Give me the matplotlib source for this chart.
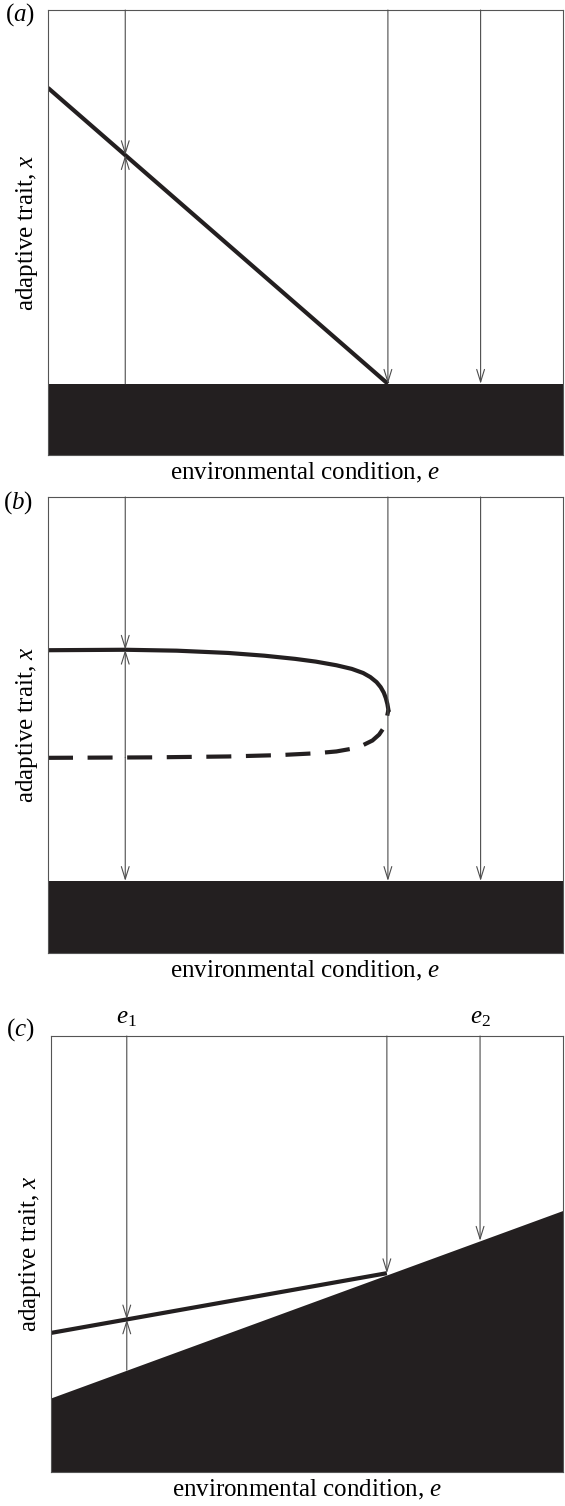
import numpy as np
import matplotlib
matplotlib.use("Agg")
import matplotlib.pyplot as plt

plt.rcParams['font.family'] = ['Liberation Serif', 'DejaVu Serif']
plt.rcParams['mathtext.fontset'] = 'custom'
plt.rcParams['mathtext.rm'] = 'Liberation Serif'
plt.rcParams['mathtext.it'] = 'Liberation Serif:italic'

# environmental conditions where the arrows are drawn (axis units 0..1)
e_arrows = [0.15, 0.66, 0.84]

# panel (a): straight equilibrium line, flat extinction floor
a_floor = 0.16
a_line_e = [0.0, 0.66]
a_line_x = [0.825, 0.16]

# panel (b): fold, stable (solid) and unstable (dashed) branch
b_floor = 0.158
b_stable_e = [0.0, 0.15, 0.25, 0.35, 0.42, 0.48, 0.52, 0.56, 0.59, 0.612, 0.626,
              0.638, 0.646, 0.652, 0.656, 0.659, 0.661]
b_stable_x = [0.664, 0.665, 0.663, 0.658, 0.652, 0.645, 0.639, 0.631, 0.623, 0.614, 0.605,
              0.594, 0.583, 0.571, 0.559, 0.546, 0.533]
b_unstable_e = [0.0, 0.20, 0.35, 0.45, 0.52, 0.56, 0.59, 0.612, 0.630, 0.643, 0.652,
                0.657, 0.661]
b_unstable_x = [0.428, 0.429, 0.431, 0.434, 0.438, 0.442, 0.448, 0.456, 0.466, 0.479, 0.494,
                0.512, 0.533]

# panel (c): rising floor, equilibrium line ending on it
c_floor_e = [0.0, 1.0]
c_floor_x = [0.17, 0.60]
c_line_e = [0.0, 0.656]
c_line_x = [0.319, 0.456]
c_arrows = [0.148, 0.656, 0.838]
c_labels = ['$e_1$', '$e_2$']

black = '#231f20'
thin = '#4d4d4d'
fs = 18
fig = plt.figure(figsize=(5.65, 15.06), dpi=100)
W, H = 565.0, 1506.0


def make_axes(top, bottom, left=48, right=563):
    ax = fig.add_axes([left / W, 1 - bottom / H, (right - left) / W, (bottom - top) / H])
    ax.set_xlim(0, 1)
    ax.set_ylim(0, 1)
    ax.set_xticks([])
    ax.set_yticks([])
    for s in ax.spines.values():
        s.set_linewidth(0.8)
        s.set_color('#555555')
    ax.set_xlabel('environmental condition, $e$', fontsize=fs, labelpad=4)
    ax.set_ylabel('adaptive trait, $x$', fontsize=fs, labelpad=6)
    return ax


def arrow(ax, e, y0, y1):
    ax.annotate('', xy=(e, y1), xytext=(e, y0),
                arrowprops=dict(arrowstyle='->,head_length=0.9,head_width=0.28',
                                lw=0.8, color=thin, shrinkA=0, shrinkB=0))


# ---- (a)
ax = make_axes(10, 455)
ax.fill_between([0, 1], 0, a_floor, color=black, lw=0)
ax.plot(a_line_e, a_line_x, color=black, lw=3, solid_capstyle='butt')
x_eq = np.interp(e_arrows[0], a_line_e, a_line_x)
arrow(ax, e_arrows[0], 1, x_eq)
arrow(ax, e_arrows[0], a_floor, x_eq)
for e in e_arrows[1:]:
    arrow(ax, e, 1, a_floor)
fig.text(20 / W, 1 - 15 / H, '($a$)', fontsize=fs, ha='center', va='center')

# ---- (b)
ax = make_axes(497, 953)
ax.fill_between([0, 1], 0, b_floor, color=black, lw=0)
ax.plot(b_stable_e, b_stable_x, color=black, lw=3)
ax.plot(b_unstable_e, b_unstable_x, color=black, lw=3, dashes=(6, 3.5))
x_st = np.interp(e_arrows[0], b_stable_e, b_stable_x)
x_un = np.interp(e_arrows[0], b_unstable_e, b_unstable_x)
arrow(ax, e_arrows[0], 1, x_st)
arrow(ax, e_arrows[0], x_un, x_st)
arrow(ax, e_arrows[0], x_un, b_floor)
for e in e_arrows[1:]:
    arrow(ax, e, 1, b_floor)
fig.text(18 / W, 1 - 503 / H, '($b$)', fontsize=fs, ha='center', va='center')

# ---- (c)
ax = make_axes(1036, 1472, left=51)
ax.fill_between(c_floor_e, 0, c_floor_x, color=black, lw=0)
ax.plot(c_line_e, c_line_x, color=black, lw=3, solid_capstyle='butt')
fl = np.interp(c_arrows[0], c_floor_e, c_floor_x)
x_eq = np.interp(c_arrows[0], c_line_e, c_line_x)
arrow(ax, c_arrows[0], 1, x_eq)
arrow(ax, c_arrows[0], fl, x_eq)
for e in c_arrows[1:]:
    top_x = np.interp(e, c_line_e, c_line_x) if e <= c_line_e[-1] else np.interp(e, c_floor_e, c_floor_x)
    arrow(ax, e, 1, top_x)
for e, lab in zip([c_arrows[0], c_arrows[2]], c_labels):
    ax.text(e, 1.015, lab, fontsize=fs, ha='center', va='bottom', transform=ax.transAxes)
fig.text(20 / W, 1 - 1030 / H, '($c$)', fontsize=fs, ha='center', va='center')

fig.savefig('out.png', dpi=100, facecolor='white')
